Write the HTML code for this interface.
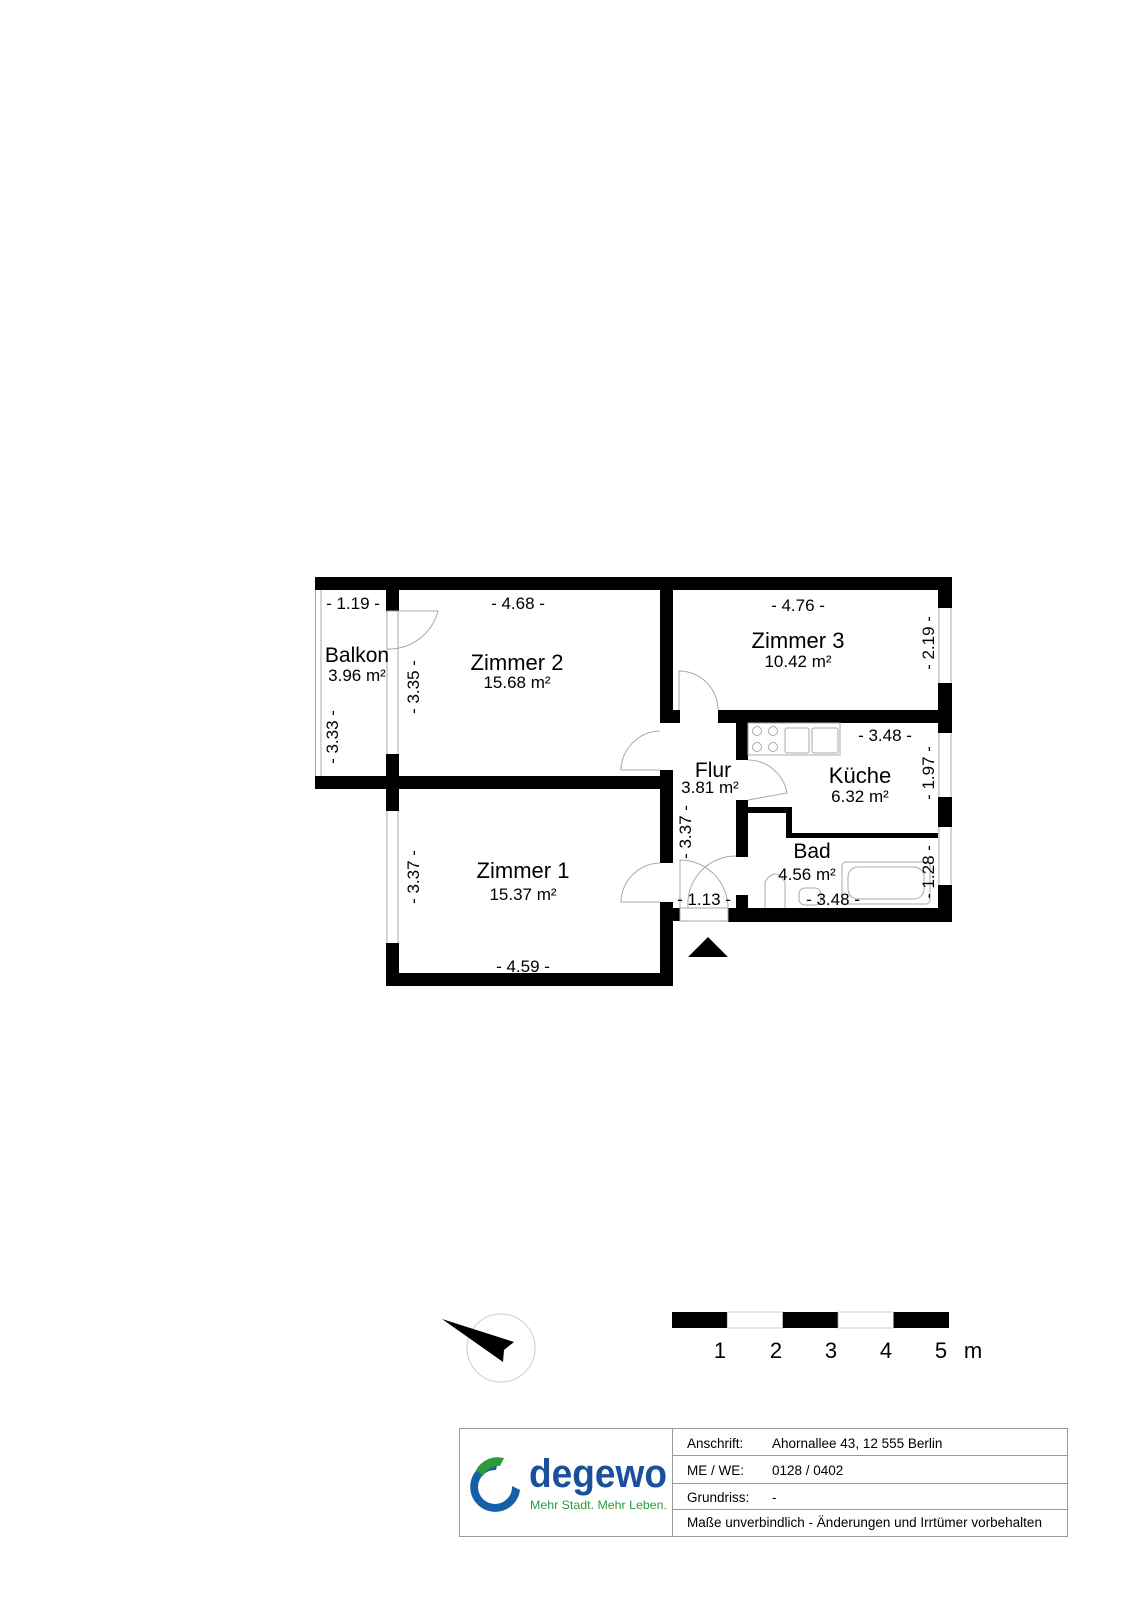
<!DOCTYPE html>
<html><head><meta charset="utf-8"><style>
html,body{margin:0;padding:0;background:#fff;}
svg{display:block;}
text{font-family:"Liberation Sans",Arial,sans-serif;fill:#000;}
</style></head><body>
<svg width="1131" height="1600" viewBox="0 0 1131 1600" xmlns="http://www.w3.org/2000/svg">
<g fill="#000">
<!-- top wall -->
<rect x="315" y="577" width="637" height="13"/>
<!-- balcony bottom / Z2-Z1 wall -->
<rect x="315" y="776" width="357" height="13"/>
<!-- wall balcony/Z2 + Z1 left -->
<rect x="386" y="590" width="13" height="21"/>
<rect x="386" y="754" width="13" height="57"/>
<rect x="386" y="943" width="13" height="43"/>
<!-- Z1 bottom wall -->
<rect x="386" y="973" width="286" height="13"/>
<!-- Flur left wall -->
<rect x="660" y="590" width="13" height="133"/>
<rect x="660" y="770" width="13" height="93"/>
<rect x="660" y="902" width="13" height="84"/>
<!-- Z3 bottom wall -->
<rect x="673" y="710" width="7" height="13"/>
<rect x="718" y="710" width="220" height="13"/>
<!-- Kueche/Bad left wall -->
<rect x="736" y="723" width="12" height="37"/>
<rect x="736" y="800" width="12" height="57"/>
<rect x="736" y="895" width="12" height="13"/>
<!-- step wall -->
<rect x="748" y="807" width="44" height="6"/>
<rect x="786" y="807" width="6" height="31"/>
<rect x="786" y="833" width="152" height="5"/>
<!-- bottom wall -->
<rect x="672" y="908" width="8" height="13"/>
<rect x="728" y="908" width="224" height="14"/>
<!-- right wall -->
<rect x="938" y="590" width="14" height="18"/>
<rect x="938" y="683" width="14" height="50"/>
<rect x="938" y="797" width="14" height="30"/>
<rect x="938" y="885" width="14" height="37"/>
<!-- entrance triangle -->
<polygon points="688,957 728,957 708,937"/>
</g>
<g fill="none" stroke="#aaa" stroke-width="1">
<!-- balcony thin borders -->
<line x1="315.5" y1="590" x2="315.5" y2="776"/>
<line x1="321" y1="590" x2="321" y2="776"/>
<!-- windows -->
<line x1="387" y1="611" x2="387" y2="754"/><line x1="398" y1="611" x2="398" y2="754"/>
<line x1="387" y1="811" x2="387" y2="943"/><line x1="398" y1="811" x2="398" y2="943"/>
<line x1="939" y1="608" x2="939" y2="683"/><line x1="951" y1="608" x2="951" y2="683"/>
<line x1="939" y1="733" x2="939" y2="797"/><line x1="951" y1="733" x2="951" y2="797"/>
<line x1="939" y1="827" x2="939" y2="885"/><line x1="951" y1="827" x2="951" y2="885"/>
<rect x="680" y="908" width="48" height="13"/>
<!-- doors -->
<path d="M387 611 L438 611 A51 51 0 0 1 387 649"/>
<path d="M660 770 L621 770 A40 40 0 0 1 660 731"/>
<path d="M660 902 L621 902 A40 40 0 0 1 660 863"/>
<path d="M679 710 L679 671 A39 39 0 0 1 718 710"/>
<path d="M748 760 A40 40 0 0 1 787 793 L748 800"/>
<path d="M680 908 L680 860 A48 48 0 0 1 728 908"/>
<path d="M736 856 A48 48 0 0 0 688 908"/>
<!-- kitchen -->
<rect x="748" y="723" width="92" height="32"/>
<circle cx="757" cy="731" r="4.5"/><circle cx="773" cy="731" r="4.5"/>
<circle cx="757" cy="747" r="4.5"/><circle cx="773" cy="747" r="4.5"/>
<rect x="785" y="728" width="24" height="25" rx="2"/>
<rect x="812" y="728" width="26" height="25" rx="2"/>
<!-- bath -->
<rect x="842" y="862" width="88" height="42" rx="4"/>
<rect x="848" y="867" width="76" height="32" rx="10"/>
<path d="M765 908 L765 882 Q775 866 785 882 L785 908"/>
<rect x="799" y="888" width="22" height="17" rx="6"/>
<!-- compass circle -->
<circle cx="501" cy="1348" r="34" stroke="#ccc"/>
</g>
<!-- compass arrow -->
<polygon points="442,1319 514,1342 504,1350 503,1362" fill="#000"/>
<!-- scale bar -->
<g>
<rect x="672" y="1312" width="55.4" height="16" fill="#000"/>
<rect x="727.4" y="1312" width="55.4" height="16" fill="#fff" stroke="#ccc"/>
<rect x="782.8" y="1312" width="55.4" height="16" fill="#000"/>
<rect x="838.2" y="1312" width="55.4" height="16" fill="#fff" stroke="#ccc"/>
<rect x="893.6" y="1312" width="55.4" height="16" fill="#000"/>
</g>
<g font-size="22" text-anchor="middle">
<text x="720" y="1358">1</text><text x="776" y="1358">2</text><text x="831" y="1358">3</text><text x="886" y="1358">4</text><text x="941" y="1358">5</text><text x="973" y="1358">m</text>
</g>
<!-- labels -->
<g font-size="17" text-anchor="middle">
<text x="353" y="609">- 1.19 -</text>
<text x="518" y="609">- 4.68 -</text>
<text x="523" y="972">- 4.59 -</text>
<text x="798" y="611">- 4.76 -</text>
<text x="885" y="741">- 3.48 -</text>
<text x="833" y="905">- 3.48 -</text>
<text x="704" y="905">- 1.13 -</text>
<text transform="translate(419,687) rotate(-90)">- 3.35 -</text>
<text transform="translate(338,737) rotate(-90)">- 3.33 -</text>
<text transform="translate(419,877) rotate(-90)">- 3.37 -</text>
<text transform="translate(691,832) rotate(-90)">- 3.37 -</text>
<text transform="translate(934,643) rotate(-90)">- 2.19 -</text>
<text transform="translate(934,773) rotate(-90)">- 1.97 -</text>
<text transform="translate(934,872) rotate(-90)">- 1.28 -</text>
</g>
<g text-anchor="middle">
<text x="357" y="662" font-size="21">Balkon</text>
<text x="357" y="681" font-size="17">3.96 m²</text>
<text x="517" y="670" font-size="22">Zimmer 2</text>
<text x="517" y="688" font-size="17">15.68 m²</text>
<text x="523" y="878" font-size="22">Zimmer 1</text>
<text x="523" y="900" font-size="17">15.37 m²</text>
<text x="798" y="648" font-size="22">Zimmer 3</text>
<text x="798" y="667" font-size="17">10.42 m²</text>
<text x="860" y="783" font-size="22">Küche</text>
<text x="860" y="802" font-size="17">6.32 m²</text>
<text x="713" y="777" font-size="21">Flur</text>
<text x="710" y="793" font-size="17">3.81 m²</text>
<text x="812" y="858" font-size="21">Bad</text>
<text x="807" y="880" font-size="17">4.56 m²</text>
</g>
<!-- title block -->
<g fill="none" stroke="#999" stroke-width="1">
<rect x="459.5" y="1428.5" width="608" height="108"/>
<line x1="672.5" y1="1428" x2="672.5" y2="1537"/>
<line x1="672" y1="1455.5" x2="1068" y2="1455.5"/>
<line x1="672" y1="1483.5" x2="1068" y2="1483.5"/>
<line x1="672" y1="1509.5" x2="1068" y2="1509.5"/>
</g>
<g font-size="13.5">
<text x="687" y="1448">Anschrift:</text><text x="772" y="1448">Ahornallee 43, 12 555 Berlin</text>
<text x="687" y="1475">ME / WE:</text><text x="772" y="1475">0128 / 0402</text>
<text x="687" y="1502">Grundriss:</text><text x="772" y="1502">-</text>
<text x="687" y="1527">Maße unverbindlich - Änderungen und Irrtümer vorbehalten</text>
</g>
<!-- logo -->
<path d="M498 1462 A25 25 0 1 0 520 1490 L512 1486 A17 17 0 1 1 496 1470 Z" fill="#1560a8"/>
<path d="M476 1470 A25 25 0 0 1 504 1458 L500 1466 A17 17 0 0 0 483 1476 Z" fill="#2a9a3a"/>
<text x="529" y="1487" font-size="40" fill="#1a4f9c" style="fill:#1a4f9c" font-weight="bold" textLength="138" lengthAdjust="spacingAndGlyphs">degewo</text>
<text x="530" y="1509" font-size="12" style="fill:#2e9a3a" textLength="137" lengthAdjust="spacingAndGlyphs">Mehr Stadt. Mehr Leben.</text>
</svg>
</body></html>
